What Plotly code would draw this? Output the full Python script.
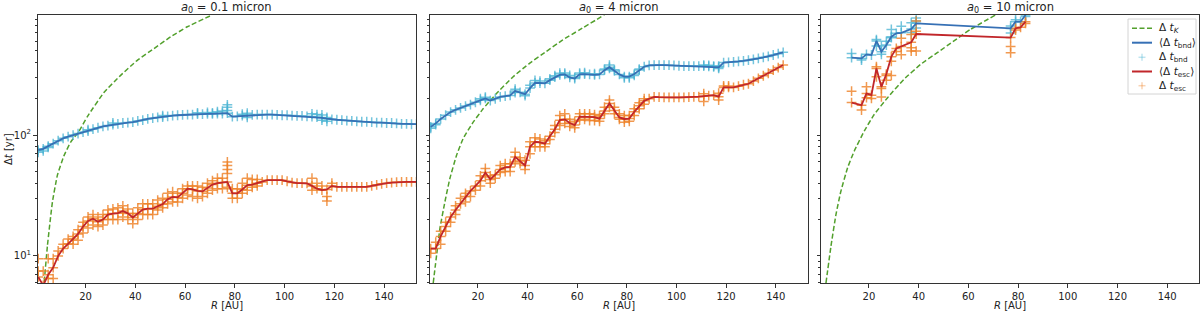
import plotly.graph_objects as go

# ---------------- data ----------------
TITLES = ["<i>a</i><sub>0</sub> = 0.1 micron", "<i>a</i><sub>0</sub> = 4 micron", "<i>a</i><sub>0</sub> = 10 micron"]
X_TICKS = [20, 40, 60, 80, 100, 120, 140]
Y_TICKS = [10, 100]
Y_TICKTEXT = ["10<sup>1</sup>", "10<sup>2</sup>"]
Y_MINOR = [6, 7, 8, 9, 20, 30, 40, 50, 60, 70, 80, 90, 200, 300, 400, 500, 600, 700, 800, 900]
LEGEND_LABELS = ["Δ <i>t</i><sub><i>K</i></sub>", "⟨Δ <i>t</i><sub>bnd</sub>⟩", "Δ <i>t</i><sub>bnd</sub>",
                 "⟨Δ <i>t</i><sub>esc</sub>⟩", "Δ <i>t</i><sub>esc</sub>"]

# Keplerian time (green dashed), read per panel
k1_R = [3.4, 4.7, 6.7, 8.7, 11.4, 14.1, 17.4, 20.8, 27.4, 34.1, 40.8, 47.5, 54.2, 60.9, 70.9]
k1_t = [6.1, 12.2, 28, 46.6, 68, 88, 108, 143, 225, 312, 416, 520, 650, 788, 986]
k2_R = [2.0, 3.4, 4.7, 6.7, 8.7, 11.4, 14.1, 18.1, 22.1, 27.4, 34.1, 40.8, 47.5, 54.2, 60.9, 70.9]
k2_t = [5.97, 10.3, 16.9, 28, 43.7, 68, 94, 128, 165, 220, 303, 393, 491, 614, 742, 986]
k3_R = [2.7, 4.7, 6.7, 8.7, 11.4, 14.1, 18.1, 22.1, 27.4, 34.1, 40.8, 47.5, 54.2, 60.9, 70.9]
k3_t = [5.97, 12, 21.9, 34.3, 53.7, 73.9, 108, 148, 203, 290, 385, 481, 602, 751, 986]

# panel 1 (a0 = 0.1 micron)
R1 = list(range(1, 154, 2))
bnd1 = [75, 77, 81, 85, 90, 94, 97, 100, 103, 106,
        108, 112, 115, 118, 120, 122, 124, 126, 127, 128,
        131, 133, 136, 138, 140, 141, 143, 145, 146, 147,
        148, 148, 149, 149, 150, 150, 151, 151, 152, 142,
        143, 145, 146, 147, 148, 148, 148, 148, 147, 146,
        146, 145, 144, 144, 143, 142, 141, 139, 137, 135,
        134, 133, 132, 131, 130, 129, 129, 128, 127, 127,
        126, 126, 125, 124, 124, 123, 123]
esc1 = [6.7, 5.7, 7.0, 8.0, 10.0, 11.5, 12.6, 13.8, 15.2, 17.5,
        19.5, 20.3, 19.2, 20.0, 22.0, 22.4, 22.6, 23.5, 22.5, 20.8,
        22.5, 24.2, 24.6, 24.6, 25.8, 26.8, 29.5, 30.8, 30.5, 33.0,
        36.0, 35.5, 34.5, 34.2, 36.5, 39.0, 40.0, 40.5, 41.0, 33.0,
        33.0, 35.5, 38.5, 39.0, 40.0, 41.0, 42.4, 42.4, 42.4, 42.4,
        41.5, 40.5, 40.0, 40.0, 39.8, 38.0, 36.0, 35.0, 35.5, 38.0,
        37.3, 37.3, 37.3, 37.3, 37.3, 37.3, 37.3, 38.0, 38.8, 39.5,
        40.0, 40.5, 40.8, 41.0, 41.0, 41.0, 41.0]
bnd1_xR = [1, 3, 5, 21, 31, 51, 65, 69, 71, 73, 75, 77, 77, 77, 85, 85, 83, 111, 113, 115, 115, 117, 117]
bnd1_xt = [72, 74, 79, 111, 126, 145, 153, 154, 153, 156, 158, 160, 170, 178, 152, 140, 149, 150, 148, 147, 133, 130, 140]
esc1_xR = [1, 1, 3, 5, 5, 7, 7, 9, 11, 13, 15, 15, 17, 17, 19, 19, 21, 21, 23, 23, 25, 25, 27, 27, 29, 29,
           31, 31, 33, 33, 35, 35, 37, 37, 39, 39, 41, 41, 43, 43, 45, 45, 47, 47, 49, 49, 51, 51, 53, 53,
           55, 55, 57, 57, 59, 59, 61, 61, 63, 63, 65, 65, 67, 67, 69, 69, 71, 71, 73, 73, 75, 75,
           77, 77, 77, 77, 77, 79, 79, 81, 81, 83, 83, 85, 85, 87, 87, 89, 89, 111, 111, 113, 115, 117, 117, 119]
esc1_xt = [9.5, 7.5, 7.5, 9.5, 6.5, 6.5, 9.5, 11, 12.5, 13.8, 14.5, 12.5, 16.5, 13.5, 15.5, 19, 17, 21, 18, 22, 21, 17.5, 18, 22, 20, 24,
           20, 24.5, 20, 25, 21, 26, 20, 24.5, 18.5, 22.5, 20, 25, 22, 27, 22, 27, 22, 27, 24, 29, 25, 30, 27, 33,
           28, 34, 28, 33, 30, 36, 32, 38, 31, 38, 30, 38, 31, 37, 33, 40, 35, 42, 36, 44, 36, 44,
           48, 52, 56, 60, 37, 30, 36, 30, 36, 33, 40, 35, 44, 37, 43, 38, 43, 44, 35, 40, 38, 31, 28.5, 40]

# panel 2 (a0 = 4 micron)
R2 = list(range(1, 144, 2))
bnd2 = [117, 125, 136, 146, 155, 162, 168, 174, 179, 187,
        194, 201, 193, 200, 207, 210, 213, 232, 226, 218,
        245, 270, 270, 268, 285, 302, 315, 318, 300, 294,
        318, 320, 318, 315, 318, 345, 365, 340, 318, 305,
        305, 320, 345, 368, 377, 380, 380, 380, 379, 377,
        375, 373, 373, 373, 373, 372, 370, 367, 364, 398,
        400, 403, 407, 412, 417, 424, 432, 440, 448, 460,
        472, 484]
esc2 = [11.5, 11.5, 14.5, 17.5, 21, 24, 27, 31, 34.5, 38,
        42, 49, 43, 47, 52, 54, 54.5, 66, 61, 56,
        80, 88, 87, 85, 98, 112, 133, 135, 126, 121,
        142, 142, 142, 141, 137, 158, 183, 160, 140, 136,
        137, 156, 175, 192, 200, 207, 206, 205, 205, 205,
        205, 205, 206, 207, 208, 210, 212, 214, 208, 248,
        248, 248, 254, 261, 266, 280, 295, 310, 325, 345,
        362, 380]
bnd2_xR = [1, 3, 21, 23, 35, 35, 39, 41, 43, 45, 49, 51, 53, 55, 57, 59, 61, 63, 67, 71, 73, 73, 75, 79, 81, 83, 85, 111, 113, 115, 117, 117]
bnd2_xt = [114, 122, 200, 206, 240, 225, 212, 258, 283, 280, 292, 310, 325, 326, 312, 300, 326, 328, 322, 352, 380, 356, 348, 298, 298, 312, 352, 380, 378, 373, 372, 356]
esc2_xR = [1, 3, 5, 5, 7, 7, 9, 11, 11, 13, 15, 15, 17, 19, 21, 21, 23, 23, 25, 25, 27, 29, 29, 31, 31, 33, 33,
           35, 35, 37, 37, 39, 39, 41, 41, 43, 43, 45, 45, 47, 47, 49, 51, 51, 53, 53, 55, 55, 57, 57, 59, 59,
           61, 61, 63, 63, 65, 65, 67, 67, 69, 69, 71, 71, 73, 73, 75, 75, 77, 77, 79, 79, 81, 81, 83, 83,
           85, 85, 87, 87, 111, 111, 117, 117, 119, 121]
esc2_xt = [10.5, 13, 12.5, 16, 16, 19, 19, 22, 26, 30, 28, 33, 31, 35, 46, 38, 53, 45, 40, 46, 44, 49, 56, 50, 58, 50, 58,
           72, 60, 58, 65, 52, 62, 70, 88, 80, 95, 80, 93, 80, 90, 92, 105, 120, 120, 145, 125, 150, 118, 135, 115, 130,
           133, 150, 135, 150, 132, 150, 132, 148, 130, 145, 150, 170, 170, 195, 150, 170, 135, 150, 128, 145, 130, 145, 145, 165,
           165, 185, 180, 200, 190, 220, 195, 222, 255, 255]

# panel 3 (a0 = 10 micron)
R3 = [13, 17, 19, 21, 23, 25, 27, 29, 31, 33, 37, 39, 77, 79, 81, 83]
bnd3 = [437, 431, 466, 460, 601, 490, 556, 652, 695, 702, 755, 841, 764, 868, 868, 986]
esc3 = [186, 177, 221, 214, 356, 251, 320, 446, 522, 540, 586, 687, 641, 766, 780, 869]
bnd3_xR = [13, 17, 23, 23, 25, 25, 27, 29, 29, 33, 37, 37, 39, 39, 39, 77, 77, 79, 83]
bnd3_xt = [474, 418, 617, 546, 546, 466, 597, 748, 640, 796, 852, 705, 932, 878, 770, 800, 700, 900, 960]
esc3_xR = [13, 17, 19, 19, 21, 23, 23, 25, 25, 27, 27, 29, 29, 31, 33, 33, 37, 37, 37, 39, 39, 39, 77, 77, 79, 83]
esc3_xt = [231, 161, 251, 204, 201, 368, 304, 243, 207, 285, 312, 408, 312, 491, 632, 463, 680, 529, 496, 878, 722, 496, 540, 480, 740, 840]

# ---------------- styling ----------------
FONT = "DejaVu Sans"
C_K = "#52a02c"
C_BL = "#3670b5"
C_BP = "rgba(70,178,210,0.75)"
C_RL = "#c1262a"
C_RP = "rgba(238,128,36,0.8)"
C_BP_LEG = "rgba(70,178,210,0.35)"
C_RP_LEG = "rgba(238,128,36,0.35)"
AX = "#333333"

ML, MR, MT, MB = 37, 1, 15, 30
W, H = 1200, 313
PW = W - ML - MR
PH = H - MT - MB
px = lambda v: (v - ML) / PW
py = lambda v: 1 - (v - MT) / PH
DOMS = [[px(37.5), px(416)], [px(430), px(807.5)], [px(821), 1.0]]

panels = [
    dict(R=R1, bnd=bnd1, esc=esc1, bxR=bnd1_xR, bxt=bnd1_xt, exR=esc1_xR, ext=esc1_xt, kR=k1_R, kt=k1_t),
    dict(R=R2, bnd=bnd2, esc=esc2, bxR=bnd2_xR, bxt=bnd2_xt, exR=esc2_xR, ext=esc2_xt, kR=k2_R, kt=k2_t),
    dict(R=R3, bnd=bnd3, esc=esc3, bxR=bnd3_xR, bxt=bnd3_xt, exR=esc3_xR, ext=esc3_xt, kR=k3_R, kt=k3_t),
]

fig = go.Figure()
for i, p in enumerate(panels):
    xa = "x" if i == 0 else f"x{i+1}"
    ya = "y" if i == 0 else f"y{i+1}"
    fig.add_trace(go.Scatter(
        x=p["kR"], y=p["kt"], mode="lines", xaxis=xa, yaxis=ya,
        line=dict(color=C_K, width=1.5, dash="5px,2.5px", shape="spline", smoothing=0.4)))
    fig.add_trace(go.Scatter(
        x=p["R"] + p["bxR"], y=p["bnd"] + p["bxt"], mode="markers", xaxis=xa, yaxis=ya,
        marker=dict(symbol="cross-thin", size=7, line=dict(color=C_BP, width=1.5))))
    fig.add_trace(go.Scatter(
        x=p["R"] + p["exR"], y=p["esc"] + p["ext"], mode="markers", xaxis=xa, yaxis=ya,
        marker=dict(symbol="cross-thin", size=7, line=dict(color=C_RP, width=1.5))))
    fig.add_trace(go.Scatter(
        x=p["R"], y=p["bnd"], mode="lines", xaxis=xa, yaxis=ya,
        line=dict(color=C_BL, width=1.8)))
    fig.add_trace(go.Scatter(
        x=p["R"], y=p["esc"], mode="lines", xaxis=xa, yaxis=ya,
        line=dict(color=C_RL, width=1.8)))

layout = dict(
    width=W, height=H, margin=dict(l=ML, r=MR, t=MT, b=MB),
    paper_bgcolor="white", plot_bgcolor="white",
    font=dict(family=FONT, size=10, color="#222222"),
    showlegend=False,
)
annotations = []
shapes = []
for i in range(3):
    sx = "" if i == 0 else str(i + 1)
    xa = "x" if i == 0 else f"x{i+1}"
    ya = "y" if i == 0 else f"y{i+1}"
    layout["xaxis" + sx] = dict(
        domain=DOMS[i], anchor=ya, range=[0.7, 152.8],
        tickmode="array", tickvals=X_TICKS, ticks="outside", ticklen=3.5, tickwidth=0.8, tickcolor=AX,
        showline=True, mirror=True, linecolor=AX, linewidth=1, showgrid=False, zeroline=False,
        automargin=False)
    layout["yaxis" + sx] = dict(
        domain=[0, 1], anchor=xa, type="log", range=[0.776, 2.994],
        tickmode="array", tickvals=Y_TICKS, ticktext=Y_TICKTEXT, ticks="outside", ticklen=3.5,
        tickwidth=0.8, tickcolor=AX, showticklabels=(i == 0),
        minor=dict(tickmode="array", tickvals=Y_MINOR, ticks="outside", ticklen=2, tickwidth=0.6,
                   tickcolor=AX, showgrid=False),
        showline=True, mirror=True, linecolor=AX, linewidth=1, showgrid=False, zeroline=False,
        automargin=False)
    annotations.append(dict(text=TITLES[i], xref="paper", yref="paper",
                            x=(DOMS[i][0] + DOMS[i][1]) / 2, y=py(8), yanchor="middle", xanchor="center",
                            showarrow=False, font=dict(size=11.5)))
    annotations.append(dict(text="<i>R</i> [AU]", xref="paper", yref="paper",
                            x=(DOMS[i][0] + DOMS[i][1]) / 2, y=py(305), yanchor="middle", xanchor="center",
                            showarrow=False, font=dict(size=10)))
annotations.append(dict(text="Δ<i>t</i> [yr]", xref="paper", yref="paper", x=px(8), y=0.5,
                        xanchor="center", yanchor="middle", textangle=-90, showarrow=False,
                        font=dict(size=10)))

# legend (drawn manually for compact spacing)
shapes.append(dict(type="rect", xref="paper", yref="paper", x0=px(1128), x1=px(1196), y0=py(94), y1=py(19),
                   line=dict(color="#d4d4d4", width=1), fillcolor="rgba(255,255,255,0.85)", layer="above"))
leg_y = [28.3, 42.7, 57.3, 71.5, 85.7]
line_styles = [dict(color=C_K, width=1.5, dash="5px,2.5px"), dict(color=C_BL, width=2), None,
               dict(color=C_RL, width=2), None]
cross_cols = [None, None, C_BP_LEG, None, C_RP_LEG]
for j, yc in enumerate(leg_y):
    if line_styles[j] is not None:
        shapes.append(dict(type="line", xref="paper", yref="paper", x0=px(1132), x1=px(1152),
                           y0=py(yc), y1=py(yc), line=line_styles[j], layer="above"))
    else:
        shapes.append(dict(type="line", xref="paper", yref="paper", x0=px(1138.5), x1=px(1145.5),
                           y0=py(yc), y1=py(yc), line=dict(color=cross_cols[j], width=1.5), layer="above"))
        shapes.append(dict(type="line", xref="paper", yref="paper", x0=px(1142), x1=px(1142),
                           y0=py(yc + 3.5), y1=py(yc - 3.5), line=dict(color=cross_cols[j], width=1.5), layer="above"))
    annotations.append(dict(text=LEGEND_LABELS[j], xref="paper", yref="paper", x=px(1157), y=py(yc),
                            xanchor="left", yanchor="middle", showarrow=False, font=dict(size=10.5)))

layout["annotations"] = annotations
layout["shapes"] = shapes
fig.update_layout(**layout)

fig.write_html("out.html", post_script="document.body.style.margin='0';",
               config={"displayModeBar": False})
